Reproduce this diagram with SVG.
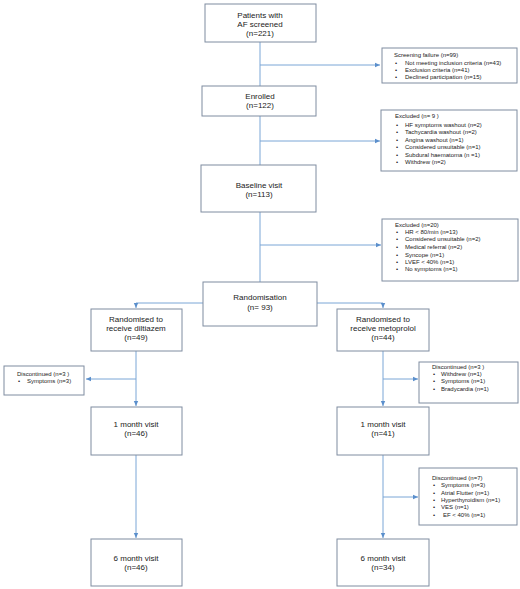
<svg xmlns="http://www.w3.org/2000/svg" width="520" height="589" viewBox="0 0 520 589">
<style>
.box{fill:#fff;stroke:#7f8ca0;stroke-width:1}
.m{font-family:"Liberation Sans",Arial,sans-serif;font-size:8px;fill:#222;text-anchor:middle}
.s{font-family:"Liberation Sans",Arial,sans-serif;font-size:6px;fill:#222}
.c{fill:none;stroke:#7aa6d6;stroke-width:1}
</style>
<defs>
<marker id="ah" markerWidth="6" markerHeight="6" refX="5" refY="3" orient="auto" markerUnits="userSpaceOnUse">
<path d="M0,0.8 L5,3 L0,5.2 Z" fill="#5b8fcc"/>
</marker>
</defs>
<rect width="520" height="589" fill="#fff"/>
<g id="connectors">
<path class="c" d="M260,42 V86"/>
<path class="c" d="M260,65 H380" marker-end="url(#ah)"/>
<path class="c" d="M260,116 V165"/>
<path class="c" d="M260,141 H380" marker-end="url(#ah)"/>
<path class="c" d="M260,212 V282"/>
<path class="c" d="M260,245 H381" marker-end="url(#ah)"/>
<path class="c" d="M203,303 H136 V308" marker-end="url(#ah)"/>
<path class="c" d="M317,303 H383 V308" marker-end="url(#ah)"/>
<path class="c" d="M136,351 V406" marker-end="url(#ah)"/>
<path class="c" d="M136,379 H86" marker-end="url(#ah)"/>
<path class="c" d="M383,351 V406" marker-end="url(#ah)"/>
<path class="c" d="M383,379 H418" marker-end="url(#ah)"/>
<path class="c" d="M136,455 V538" marker-end="url(#ah)"/>
<path class="c" d="M383,455 V538" marker-end="url(#ah)"/>
<path class="c" d="M383,497 H418" marker-end="url(#ah)"/>
</g>
<g id="screened">
<rect class="box" x="205" y="4" width="111" height="38"/>
<text class="m" x="260" y="18">Patients with</text>
<text class="m" x="260" y="27">AF screened</text>
<text class="m" x="260" y="36">(n=221)</text>
</g>
<g id="screen-fail">
<rect class="box" x="382" y="48" width="135" height="35"/>
<text class="s" x="394" y="57">Screening failure (n=99)</text>
<text class="s" x="395" y="65">•</text><text class="s" x="405" y="65">Not meeting inclusion criteria (n=43)</text>
<text class="s" x="395" y="72">•</text><text class="s" x="405" y="72">Exclusion criteria (n=41)</text>
<text class="s" x="395" y="79">•</text><text class="s" x="405" y="79">Declined participation (n=15)</text>
</g>
<g id="enrolled">
<rect class="box" x="202" y="86" width="114" height="30"/>
<text class="m" x="260" y="99">Enrolled</text>
<text class="m" x="260" y="108">(n=122)</text>
</g>
<g id="excluded9">
<rect class="box" x="381" y="110" width="136" height="61"/>
<text class="s" x="395" y="118">Excluded  (n= 9 )</text>
<text class="s" x="396" y="127">•</text><text class="s" x="405" y="127">HF symptoms washout (n=2)</text>
<text class="s" x="396" y="134">•</text><text class="s" x="405" y="134">Tachycardia washout (n=2)</text>
<text class="s" x="396" y="142">•</text><text class="s" x="405" y="142">Angina washout (n=1)</text>
<text class="s" x="396" y="149">•</text><text class="s" x="405" y="149">Considered unsuitable (n=1)</text>
<text class="s" x="396" y="157">•</text><text class="s" x="405" y="157">Subdural haematoma (n =1)</text>
<text class="s" x="396" y="164">•</text><text class="s" x="405" y="164">Withdrew (n=2)</text>
</g>
<g id="baseline">
<rect class="box" x="201" y="165" width="115" height="47"/>
<text class="m" x="259" y="188">Baseline visit</text>
<text class="m" x="259" y="197">(n=113)</text>
</g>
<g id="excluded20">
<rect class="box" x="382" y="219" width="136" height="62"/>
<text class="s" x="395" y="227">Excluded  (n=20)</text>
<text class="s" x="396" y="234">•</text><text class="s" x="405" y="234">HR &lt; 80/min (n=13)</text>
<text class="s" x="396" y="241">•</text><text class="s" x="405" y="241">Considered unsuitable (n=2)</text>
<text class="s" x="396" y="249">•</text><text class="s" x="405" y="249">Medical referral (n=2)</text>
<text class="s" x="396" y="257">•</text><text class="s" x="405" y="257">Syncope (n=1)</text>
<text class="s" x="396" y="264">•</text><text class="s" x="405" y="264">LVEF &lt; 40% (n=1)</text>
<text class="s" x="396" y="271">•</text><text class="s" x="405" y="271">No symptoms (n=1)</text>
</g>
<g id="randomisation">
<rect class="box" x="203" y="282" width="114" height="44"/>
<text class="m" x="260" y="300">Randomisation</text>
<text class="m" x="260" y="310">(n= 93)</text>
</g>
<g id="diltiazem">
<rect class="box" x="91" y="309" width="91" height="42"/>
<text class="m" x="136" y="322">Randomised to</text>
<text class="m" x="136" y="331">receive diltiazem</text>
<text class="m" x="136" y="340">(n=49)</text>
</g>
<g id="metoprolol">
<rect class="box" x="337" y="309" width="92" height="42"/>
<text class="m" x="383" y="322">Randomised to</text>
<text class="m" x="383" y="331">receive metoprolol</text>
<text class="m" x="383" y="340">(n=44)</text>
</g>
<g id="disc-left">
<rect class="box" x="4" y="366" width="80" height="29"/>
<text class="s" x="17" y="376">Discontinued (n=3 )</text>
<text class="s" x="18" y="383">•</text><text class="s" x="27" y="383">Symptoms (n=3)</text>
</g>
<g id="disc-right3">
<rect class="box" x="419" y="362" width="99" height="41"/>
<text class="s" x="432" y="369">Discontinued (n=3 )</text>
<text class="s" x="433" y="376">•</text><text class="s" x="441" y="376">Withdrew (n=1)</text>
<text class="s" x="433" y="383">•</text><text class="s" x="441" y="383">Symptoms (n=1)</text>
<text class="s" x="433" y="391">•</text><text class="s" x="441" y="391">Bradycardia (n=1)</text>
</g>
<g id="month1-left">
<rect class="box" x="91" y="407" width="91" height="48"/>
<text class="m" x="136" y="427">1 month visit</text>
<text class="m" x="136" y="436">(n=46)</text>
</g>
<g id="month1-right">
<rect class="box" x="337" y="407" width="92" height="48"/>
<text class="m" x="383" y="427">1 month visit</text>
<text class="m" x="383" y="436">(n=41)</text>
</g>
<g id="disc-right7">
<rect class="box" x="419" y="468" width="98" height="57"/>
<text class="s" x="432" y="480">Discontinued (n=7)</text>
<text class="s" x="433" y="487">•</text><text class="s" x="441" y="487">Symptoms (n=3)</text>
<text class="s" x="433" y="495">•</text><text class="s" x="441" y="495">Atrial Flutter (n=1)</text>
<text class="s" x="433" y="502">•</text><text class="s" x="441" y="502">Hyperthyroidism (n=1)</text>
<text class="s" x="433" y="509">•</text><text class="s" x="441" y="509">VES (n=1)</text>
<text class="s" x="433" y="517">•</text><text class="s" x="443" y="517">EF &lt; 40% (n=1)</text>
</g>
<g id="month6-left">
<rect class="box" x="91" y="539" width="91" height="47"/>
<text class="m" x="136" y="561">6 month visit</text>
<text class="m" x="136" y="570">(n=46)</text>
</g>
<g id="month6-right">
<rect class="box" x="337" y="539" width="92" height="47"/>
<text class="m" x="383" y="561">6 month visit</text>
<text class="m" x="383" y="570">(n=34)</text>
</g>
</svg>
